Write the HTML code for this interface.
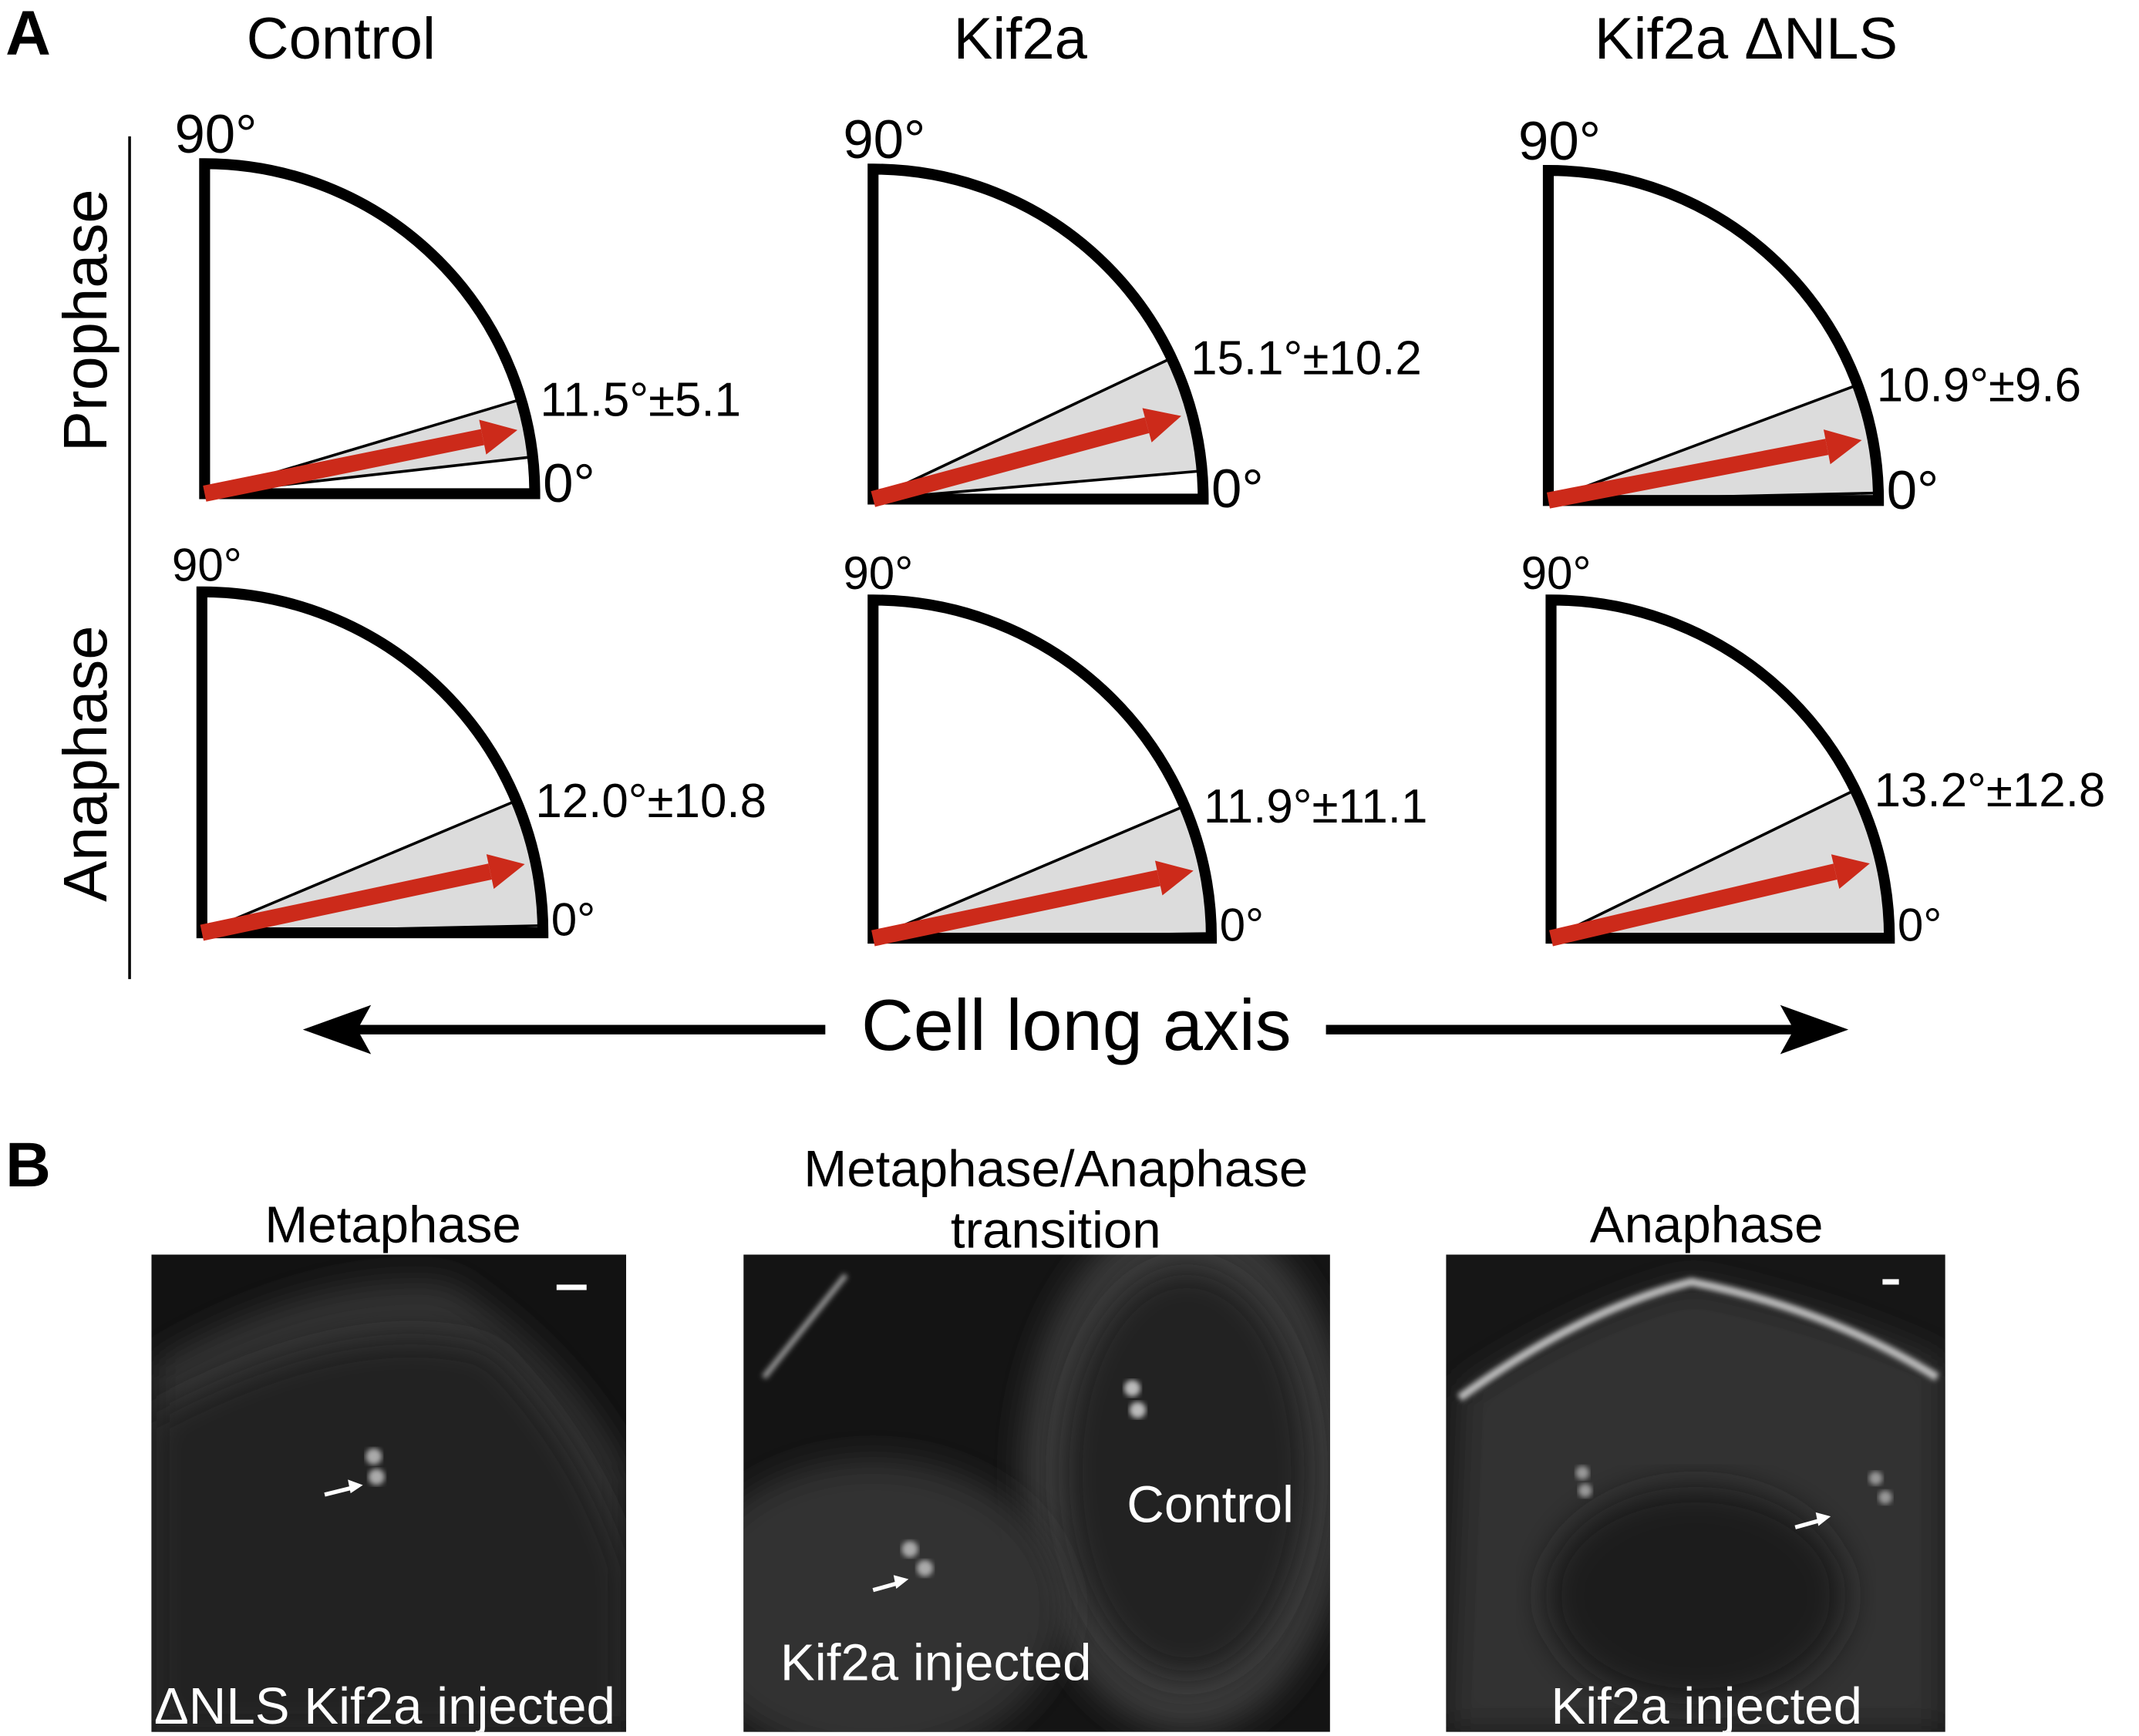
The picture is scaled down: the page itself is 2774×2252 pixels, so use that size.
<!DOCTYPE html>
<html><head><meta charset="utf-8"><style>
html,body{margin:0;padding:0;background:#fff;}
svg{display:block;font-family:"Liberation Sans",Arial,sans-serif;}
</style></head><body>
<svg id="fig" width="2774" height="2252" viewBox="0 0 1568 1273" preserveAspectRatio="none" xmlns="http://www.w3.org/2000/svg">
<defs>
<filter id="blur"><feGaussianBlur stdDeviation="12"/></filter>
<filter id="blur2"><feGaussianBlur stdDeviation="2"/></filter>
<clipPath id="c1"><rect x="111" y="920" width="348" height="350"/></clipPath>
<clipPath id="c2"><rect x="545" y="920" width="430" height="350"/></clipPath>
<clipPath id="c3"><rect x="1060" y="920" width="366" height="350"/></clipPath>
</defs>
<text x="4" y="40" font-size="46" font-weight="bold">A</text>
<text x="4" y="870" font-size="46" font-weight="bold">B</text>
<text x="250" y="43" font-size="43" text-anchor="middle">Control</text>
<text x="748" y="43" font-size="43" text-anchor="middle">Kif2a</text>
<text x="1280" y="43" font-size="43" text-anchor="middle">Kif2a ΔNLS</text>
<line x1="95" y1="100" x2="95" y2="718" stroke="#000" stroke-width="2"/>
<text transform="translate(78,235) rotate(-90)" font-size="45" text-anchor="middle">Prophase</text>
<text transform="translate(78,560) rotate(-90)" font-size="45" text-anchor="middle">Anaphase</text>
<g id="quads"></g>
<g>
<line x1="250" y1="755" x2="605" y2="755" stroke="#000" stroke-width="7"/>
<polygon points="222,755 272,737 262,755 272,773" fill="#000"/>
<line x1="972" y1="755" x2="1330" y2="755" stroke="#000" stroke-width="7"/>
<polygon points="1355,755 1305,737 1315,755 1305,773" fill="#000"/>
<text x="789" y="770" font-size="53" text-anchor="middle">Cell long axis</text>
</g>
<text x="288" y="911" font-size="38" text-anchor="middle">Metaphase</text>
<text x="774" y="870" font-size="38" text-anchor="middle">Metaphase/Anaphase</text>
<text x="774" y="915" font-size="38" text-anchor="middle">transition</text>
<text x="1251" y="911" font-size="38" text-anchor="middle">Anaphase</text>
<g clip-path="url(#c1)">
<rect x="111" y="920" width="348" height="350" fill="#121212"/>
<path d="M111,1000 Q230,930 330,940 Q420,1000 459,1080 L459,1270 L111,1270 Z" fill="#333" filter="url(#blur)"/>
<path d="M111,1040 Q260,960 360,990 Q430,1060 459,1150 L459,1270 L111,1270 Z" fill="#242424" filter="url(#blur)"/>
<circle cx="274" cy="1068" r="6" fill="#aaa" filter="url(#blur2)"/><circle cx="276" cy="1083" r="6" fill="#aaa" filter="url(#blur2)"/>
<line x1="238" y1="1096" x2="258" y2="1091" stroke="#fff" stroke-width="3"/><polygon points="266,1089 255,1085 257,1095" fill="#fff"/>
<rect x="408" y="942" width="22" height="4" fill="#fff"/>
<text x="113" y="1264" font-size="38" fill="#fff">ΔNLS Kif2a injected</text>
</g>
<g clip-path="url(#c2)">
<rect x="545" y="920" width="430" height="350" fill="#141414"/>
<ellipse cx="870" cy="1080" rx="120" ry="190" fill="#3a3a3a" filter="url(#blur)"/>
<ellipse cx="870" cy="1080" rx="90" ry="150" fill="#222" filter="url(#blur)"/>
<ellipse cx="640" cy="1180" rx="140" ry="110" fill="#333" filter="url(#blur)"/>
<path d="M560,1010 L620,935" stroke="#999" stroke-width="4" filter="url(#blur2)"/>
<circle cx="830" cy="1018" r="6" fill="#bbb" filter="url(#blur2)"/><circle cx="834" cy="1034" r="6" fill="#bbb" filter="url(#blur2)"/>
<circle cx="667" cy="1136" r="6" fill="#aaa" filter="url(#blur2)"/><circle cx="678" cy="1150" r="6" fill="#aaa" filter="url(#blur2)"/>
<line x1="640" y1="1166" x2="658" y2="1161" stroke="#fff" stroke-width="3"/><polygon points="666,1158 655,1155 657,1165" fill="#fff"/>
<text x="826" y="1116" font-size="38" fill="#fff">Control</text>
<text x="572" y="1232" font-size="38" fill="#fff">Kif2a injected</text>
</g>
<rect x="977" y="936" width="12" height="4" fill="#fff"/>
<g clip-path="url(#c3)">
<rect x="1060" y="920" width="366" height="350" fill="#161616"/>
<path d="M1070,1020 Q1160,960 1240,940 Q1340,960 1426,1000 L1426,1270 L1060,1270 Z" fill="#333" filter="url(#blur)"/>
<ellipse cx="1243" cy="1170" rx="110" ry="80" fill="#1b1b1b" filter="url(#blur)"/>
<path d="M1070,1025 Q1160,960 1240,940 Q1340,960 1420,1010" stroke="#bbb" stroke-width="6" fill="none" filter="url(#blur2)"/>
<circle cx="1160" cy="1080" r="5" fill="#999" filter="url(#blur2)"/><circle cx="1162" cy="1093" r="5" fill="#999" filter="url(#blur2)"/>
<circle cx="1375" cy="1084" r="5" fill="#999" filter="url(#blur2)"/><circle cx="1382" cy="1098" r="5" fill="#999" filter="url(#blur2)"/>
<line x1="1316" y1="1120" x2="1334" y2="1115" stroke="#fff" stroke-width="3"/><polygon points="1342,1112 1331,1109 1333,1119" fill="#fff"/>
<rect x="1380" y="938" width="12" height="4" fill="#fff"/>
<text x="1251" y="1264" font-size="38" fill="#fff" text-anchor="middle">Kif2a injected</text>
</g>
</svg>
<script>
const conditions = ["Control","Kif2a","Kif2a ΔNLS"];
const phases = ["Prophase","Anaphase"];
const means = [[11.5,15.1,10.9],[12.0,11.9,13.2]];
const sds = [[5.1,10.2,9.6],[10.8,11.1,12.8]];
const labels = [["11.5°±5.1","15.1°±10.2","10.9°±9.6"],["12.0°±10.8","11.9°±11.1","13.2°±12.8"]];
const NS="http://www.w3.org/2000/svg";
const g=document.getElementById('quads');
const origins=[[[150,362],[640,366],[1135,367]],[[148,684],[640,688],[1137,688]]];
const radii=[[242,242,242],[250,248,248]];
function mk(t,a,p){const e=document.createElementNS(NS,t);for(const k in a)e.setAttribute(k,a[k]);(p||g).appendChild(e);return e;}
function pt(o,r,deg){const a=deg*Math.PI/180;return [o[0]+r*Math.cos(a),o[1]-r*Math.sin(a)];}
for(let p=0;p<2;p++)for(let c=0;c<3;c++){
 const o=origins[p][c],r=radii[p][c];
 const grp=mk('g',{});
 
 
 const lo=Math.max(0,means[p][c]-sds[p][c]),hi=means[p][c]+sds[p][c];
 const a1=pt(o,r,lo),a2=pt(o,r,hi);
 const w=mk('path',{d:`M${o[0]},${o[1]} L${a1[0]},${a1[1]} A${r},${r} 0 0 0 ${a2[0]},${a2[1]} Z`,fill:'#dcdcdc',stroke:'#000','stroke-width':2},grp);
 
 
 const q=mk('path',{d:`M${o[0]},${o[1]-r} L${o[0]},${o[1]} L${o[0]+r},${o[1]} A${r},${r} 0 0 0 ${o[0]},${o[1]-r} Z`,fill:'none',stroke:'#000','stroke-width':8,'stroke-linejoin':'miter'},grp);
 
 
 const m=means[p][c],tip=pt(o,r-8,m),base=pt(o,r-34,m);
 const pa=(m+90)*Math.PI/180;
 const ar=mk('g',{},grp);
 
 
 mk('line',{x1:o[0],y1:o[1],x2:base[0],y2:base[1],stroke:'#cc2a1a','stroke-width':12},ar);
 const w1=[base[0]+13*Math.cos(pa),base[1]-13*Math.sin(pa)],w2=[base[0]-13*Math.cos(pa),base[1]+13*Math.sin(pa)];
 mk('polygon',{points:`${tip[0]},${tip[1]} ${w1[0]},${w1[1]} ${w2[0]},${w2[1]}`,fill:'#cc2a1a'},ar);
 const t90=mk('text',{x:o[0]-22,y:o[1]-r-8,'font-size':p?34:40},grp);t90.textContent='90°';
 
 
 const t0=mk('text',{x:o[0]+r+6,y:o[1]+(p?2:6),'font-size':p?34:40},grp);t0.textContent='0°';
 
 
 const tl=mk('text',{x:a2[0]+14,y:a2[1]+12,'font-size':35},grp);tl.textContent=labels[p][c];
 
 
}
</script>
</body></html>
